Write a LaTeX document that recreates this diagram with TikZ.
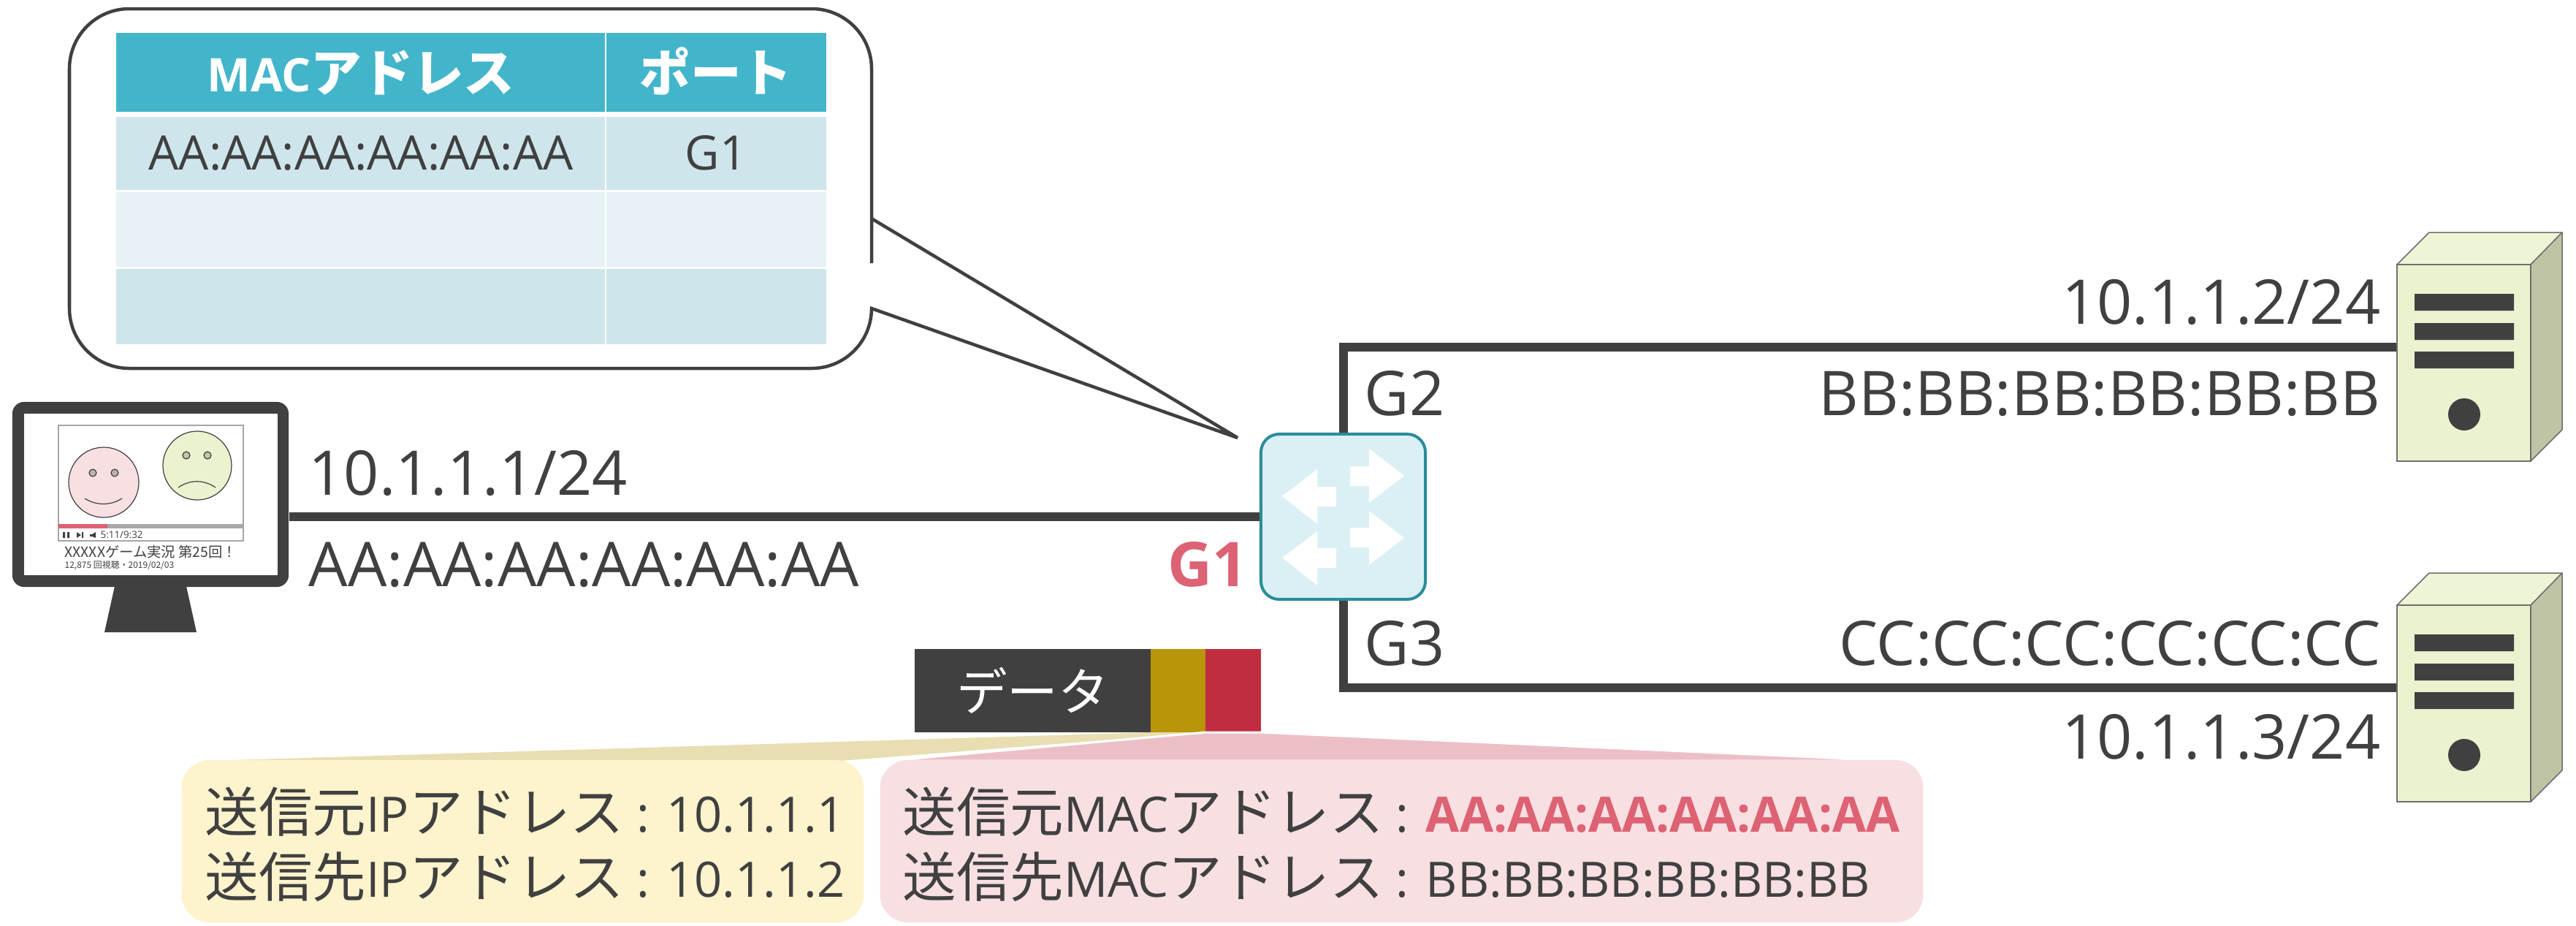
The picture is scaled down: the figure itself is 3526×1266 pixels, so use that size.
\documentclass[tikz,border=0pt]{standalone}
\usepackage{fontspec}
\setmainfont{Open Sans}
\newfontfamily\jp{Noto Sans CJK JP}[Scale=1.1]
\newfontfamily\jpsmall{Noto Sans CJK JP}
\definecolor{ink}{HTML}{404040}
\definecolor{accent}{HTML}{DD6273}
\definecolor{teal}{HTML}{2B8C9B}
\definecolor{swfill}{HTML}{DAF0F4}
\definecolor{hdr}{HTML}{43B5CB}
\definecolor{rowA}{HTML}{CEE5EB}
\definecolor{rowB}{HTML}{E6F2F5}
\definecolor{srvF}{HTML}{EBF2CF}
\definecolor{srvS}{HTML}{BEC4A4}
\definecolor{srvT}{HTML}{EEF4D6}
\definecolor{srvLine}{HTML}{6E6E6E}
\definecolor{gold}{HTML}{B8950A}
\definecolor{crim}{HTML}{C02D41}
\definecolor{yel}{HTML}{FDF3CD}
\definecolor{yelT}{HTML}{E8DEB2}
\definecolor{pnk}{HTML}{F7DFE2}
\definecolor{pnkT}{HTML}{ECBFC7}
\definecolor{facePink}{HTML}{F8DFE2}
\definecolor{faceGreen}{HTML}{EBF2CF}
\definecolor{eyePink}{HTML}{C0B0B0}
\definecolor{eyeGreen}{HTML}{C2C6A2}
\definecolor{barGray}{HTML}{A8A8A8}
\definecolor{frameGray}{HTML}{A6A6A6}
\begin{document}
\begin{tikzpicture}[x=0.01cm,y=-0.01cm,
  lbl/.style={inner sep=0pt, text=ink, font=\fontsize{24pt}{28pt}\selectfont},
  celltxt/.style={inner sep=0pt, text=ink, font=\fontsize{18.5pt}{21pt}\selectfont},
  boxtxt/.style={inner sep=0pt, text=ink, font=\fontsize{19pt}{22pt}\selectfont},
  cell/.style={inner sep=0pt, draw=none},
  netline/.style={draw=ink, line width=0.12cm, line join=miter},
  switchbox/.style={draw=teal, fill=swfill, line width=0.04cm, rounded corners=0.25cm,
    minimum width=2.25cm, minimum height=2.26cm, inner sep=0pt},
  srvfront/.style={draw=srvLine, fill=srvF, line width=0.015cm,
    minimum width=1.83cm, minimum height=2.69cm, inner sep=0pt},
  srvpart/.style={draw=srvLine, line width=0.015cm, line join=round},
  pktbox/.style={inner sep=0pt, minimum height=1.14cm},
  face/.style={draw=ink, line width=0.012cm},
]
\useasboundingbox (0,0) rectangle (3526,1266);

% ---------- MAC address table balloon ----------
\draw[draw=ink, line width=0.045cm, fill=white, line join=miter]
  (1193,360) -- (1193,94) arc[start angle=0, end angle=-90, radius=82]
  -- (177,12) arc[start angle=-90, end angle=-180, radius=82]
  -- (95,422) arc[start angle=180, end angle=90, radius=82]
  -- (1111,504) arc[start angle=90, end angle=0, radius=82]
  -- (1694,599) -- (1193,299) -- cycle;

\node[cell, fill=hdr, minimum width=6.69cm, minimum height=1.08cm] (h1) at (493.5,99) {};
\node[cell, fill=hdr, minimum width=3.01cm, minimum height=1.08cm] (h2) at (980.5,99) {};
\node[cell, fill=rowA, minimum width=6.69cm, minimum height=1.00cm] (r1a) at (493.5,210) {};
\node[cell, fill=rowA, minimum width=3.01cm, minimum height=1.00cm] (r1b) at (980.5,210) {};
\node[cell, fill=rowB, minimum width=6.69cm, minimum height=1.02cm] (r2a) at (493.5,314) {};
\node[cell, fill=rowB, minimum width=3.01cm, minimum height=1.02cm] (r2b) at (980.5,314) {};
\node[cell, fill=rowA, minimum width=6.69cm, minimum height=1.03cm] (r3a) at (493.5,419.5) {};
\node[cell, fill=rowA, minimum width=3.01cm, minimum height=1.03cm] (r3b) at (980.5,419.5) {};

\node[celltxt, text=white, anchor=base, font=\fontsize{18pt}{21pt}\selectfont\bfseries] (th1) at (494,125) {MAC{\jp アドレス}};
\node[celltxt, text=white, anchor=base, font=\fontsize{18pt}{21pt}\selectfont\bfseries] (th2) at (980,125) {{\jp ポート}};
\node[celltxt, anchor=base] (td1) at (494,232) {AA:AA:AA:AA:AA:AA};
\node[celltxt, anchor=base] (td2) at (980,232) {G1};

% ---------- PC ----------
\node[cell, fill=ink, rounded corners=0.16cm, minimum width=3.78cm, minimum height=2.53cm] (mon) at (206,676.5) {};
\fill[white] (33,566) rectangle (380,787);
\fill[ink] (157,802) -- (255,802) -- (269,865) -- (143,865) -- cycle;
% video player
\draw[frameGray, line width=0.012cm, fill=white] (80,582) rectangle (333,740);
\fill[barGray] (80,717) rectangle (333,723);
\fill[accent] (80,717) rectangle (147,723);
\fill[ink] (86,728) rectangle (89,736) (92,728) rectangle (95,736);
\fill[ink] (105,728) -- (111,732) -- (105,736) -- cycle (112,728) rectangle (114,736);
\fill[ink] (123,731) rectangle (126,734) (126,731) -- (131,728) -- (131,736) -- (126,734) -- cycle;
\node[inner sep=0pt, text=ink, anchor=base west, font=\fontsize{3.8pt}{4pt}\selectfont] (vtime) at (137,736) {5:11/9:32};
\node[inner sep=0pt, text=ink, anchor=base west, font=\jpsmall\fontsize{5.5pt}{6pt}\selectfont] (vtitle) at (88,762) {XXXXXゲーム実況 第25回！};
\node[inner sep=0pt, text=ink, anchor=base west, font=\jpsmall\fontsize{3.4pt}{4pt}\selectfont] (vinfo) at (88,777) {12,875 回視聴・2019/02/03};
% faces
\draw[face, fill=facePink] (142,660) circle (48);
\draw[face, fill=eyePink] (127,647) circle (5) (157,647) circle (5);
\draw[face] (116,682) .. controls (132,692) and (151,692) .. (167,682);
\draw[face, fill=faceGreen] (270,637) circle (47);
\draw[face, fill=eyeGreen] (255,623) circle (5) (284,623) circle (5);
\draw[face] (244,667) .. controls (260,656) and (279,656) .. (295,667);

% ---------- switch ----------
\node[switchbox] (sw) at (1838.5,707) {};
\fill[white] (1755,679) -- (1803,642) -- (1803,666) -- (1829,666) -- (1829,693) -- (1803,693) -- (1803,717) -- cycle;
\fill[white] (1755,763) -- (1803,727) -- (1803,750) -- (1829,750) -- (1829,777) -- (1803,777) -- (1803,801) -- cycle;
\fill[white] (1922,651) -- (1874,614) -- (1874,638) -- (1848,638) -- (1848,665) -- (1874,665) -- (1874,688) -- cycle;
\fill[white] (1922,736) -- (1874,699) -- (1874,722) -- (1848,722) -- (1848,749) -- (1874,749) -- (1874,773) -- cycle;

% ---------- servers ----------
\foreach \nm/\dy in {srvB/0, srvC/466} {
  \begin{scope}[yshift=-\dy*0.01cm]
    \draw[srvpart, fill=srvT] (3281,362) -- (3325,318) -- (3507,318) -- (3464,362) -- cycle;
    \draw[srvpart, fill=srvS] (3464,362) -- (3507,318) -- (3507,588) -- (3464,631) -- cycle;
    \node[srvfront] (\nm) at (3372.5,496.5) {};
    \fill[ink] (3305,402) rectangle (3441,425) (3305,442) rectangle (3441,465) (3305,481) rectangle (3441,504);
    \fill[ink] (3373,567) circle (22);
  \end{scope}
}

% ---------- links ----------
\draw[netline] (sw.west -| mon.east) -- (sw.west);
\draw[netline] (sw.north) |- ([yshift=0.215cm]srvB.west);
\draw[netline] (sw.south) |- ([yshift=0.215cm]srvC.west);

% ---------- labels ----------
\node[lbl, anchor=base west] (ipA) at (422,677) {10.1.1.1/24};
\node[lbl, anchor=base west] (macA) at (422,802) {AA:AA:AA:AA:AA:AA};
\node[lbl, anchor=base east, text=accent, font=\fontsize{24pt}{28pt}\selectfont\bfseries] (g1) at (1708,802) {G1};
\node[lbl, anchor=base west] (g2) at (1867,568) {G2};
\node[lbl, anchor=base west] (g3) at (1867,910) {G3};
\node[lbl, anchor=base east] (ipB) at (3259,443) {10.1.1.2/24};
\node[lbl, anchor=base east] (macB) at (3259,568) {BB:BB:BB:BB:BB:BB};
\node[lbl, anchor=base east] (macC) at (3259,910) {CC:CC:CC:CC:CC:CC};
\node[lbl, anchor=base east] (ipC) at (3259,1038) {10.1.1.3/24};

% ---------- frame ----------
\node[pktbox, fill=ink, minimum width=3.23cm, text=white, font=\jp\fontsize{18pt}{20pt}\selectfont] (data) at (1413.5,945) {データ};
\node[pktbox, fill=gold, minimum width=0.75cm] (iphdr) at (1612.5,945) {};
\node[pktbox, fill=crim, minimum width=0.76cm] (machdr) at (1688,945) {};

% header callouts
\fill[yelT] (1575,1002) -- (1650,1002) -- (1151,1041) -- (285,1041) -- cycle;
\filldraw[fill=pnkT, draw=white, line width=0.03cm, line join=round] (1650,1002) -- (1726,1002) -- (2597,1041) -- (1215,1041) -- cycle;
\node[cell, fill=yel, rounded corners=0.38cm, minimum width=9.33cm, minimum height=2.22cm] (ybox) at (715.5,1151) {};
\node[cell, fill=pnk, rounded corners=0.38cm, minimum width=14.27cm, minimum height=2.22cm] (pbox) at (1918.5,1151) {};

\node[boxtxt, anchor=base west] (y1) at (280,1138) {{\jp 送信元}IP{\jp アドレス} : 10.1.1.1};
\node[boxtxt, anchor=base west] (y2) at (280,1227) {{\jp 送信先}IP{\jp アドレス} : 10.1.1.2};
\node[boxtxt, anchor=base west] (p1) at (1235,1138) {{\jp 送信元}MAC{\jp アドレス} : {\color{accent}\bfseries AA:AA:AA:AA:AA:AA}};
\node[boxtxt, anchor=base west] (p2) at (1235,1227) {{\jp 送信先}MAC{\jp アドレス} : BB:BB:BB:BB:BB:BB};
\end{tikzpicture}
\end{document}
